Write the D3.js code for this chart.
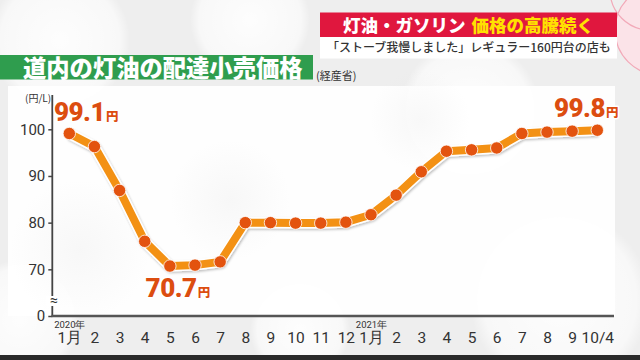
<!DOCTYPE html>
<html><head><meta charset="utf-8">
<script src="https://cdn.jsdelivr.net/npm/d3@7"></script>
<style>html,body{margin:0;padding:0;background:#efefef;}svg{display:block;}</style>
</head><body>
<svg id="c" width="640" height="360"></svg>
<script>
const months = ["1月","2","3","4","5","6","7","8","9","10","11","12","1月","2","3","4","5","6","7","8","9","10/4"];
const years = ["2020年","","","","","","","","","","","","2021年","","","","","","","","",""];
const prices = [99.1, 96.3, 86.9, 76.0, 70.7, 70.9, 71.6, 80.0, 80.0, 79.9, 79.9, 80.1, 81.7, 85.9, 90.9, 95.3, 95.6, 96.0, 99.1, 99.4, 99.6, 99.8];
const yTicks = [60, 70, 80, 90, 100];
const yTickLabels = ["0", "70", "80", "90", "100"];
const callouts = [0, 4, 21];
const titleText = "道内の灯油の配達小売価格";
const sourceText = "(経産省)";
const unitText = "(円/L)";
const bannerWhite = "灯油・ガソリン";
const bannerYellow = "価格の高騰続く";
const subText = "「ストーブ我慢しました」レギュラー160円台の店も";

const svg = d3.select("#c");
const JP = "'Noto Sans CJK JP','Noto Sans',sans-serif";
const NUM = "Roboto,'Liberation Sans',sans-serif";

// background
const defs = svg.append("defs");
const rg = defs.append("radialGradient").attr("id","bok");
rg.append("stop").attr("offset","0%").attr("stop-color","#ffffff").attr("stop-opacity",0.9);
rg.append("stop").attr("offset","85%").attr("stop-color","#ffffff").attr("stop-opacity",0.6);
rg.append("stop").attr("offset","100%").attr("stop-color","#ffffff").attr("stop-opacity",0);
const rg2 = defs.append("radialGradient").attr("id","bokg");
rg2.append("stop").attr("offset","0%").attr("stop-color","#d8d8d8").attr("stop-opacity",0.5);
rg2.append("stop").attr("offset","100%").attr("stop-color","#d8d8d8").attr("stop-opacity",0);
const sh = defs.append("filter").attr("id","sh").attr("x","-20%").attr("y","-20%").attr("width","140%").attr("height","140%");
sh.append("feDropShadow").attr("dx",1).attr("dy",1.5).attr("stdDeviation",1.2).attr("flood-color","#000").attr("flood-opacity",0.25);

svg.append("rect").attr("width",640).attr("height",360).attr("fill","#eeeeee");
[[60,40,70],[250,20,60],[560,300,90],[20,320,60],[300,330,50],[470,110,70]].forEach(b=>{
  svg.append("circle").attr("cx",b[0]).attr("cy",b[1]).attr("r",b[2]).attr("fill","url(#bok)");
});
svg.append("rect").attr("x",8).attr("y",86).attr("width",607).attr("height",230).attr("fill","#ffffff").attr("opacity",0.92);
[[230,200,60],[420,120,50],[80,250,70]].forEach(b=>{
  svg.append("circle").attr("cx",b[0]).attr("cy",b[1]).attr("r",b[2]).attr("fill","url(#bokg)").attr("opacity",0.35);
});
svg.append("rect").attr("x",0).attr("y",355).attr("width",640).attr("height",5).attr("fill","#2a2a2a");

// right pink decoration
const pk = svg.append("g");
pk.append("circle").attr("cx",660).attr("cy",30).attr("r",45).attr("fill","#fbe3e8").attr("stroke","#f2a9b8").attr("stroke-width",1.2);
pk.append("circle").attr("cx",650).attr("cy",-10).attr("r",40).attr("fill","none").attr("stroke","#f2a9b8").attr("stroke-width",1.2);

// banner
svg.append("rect").attr("x",320).attr("y",12.5).attr("width",297).attr("height",24.5).attr("fill","#e0173e");
svg.append("rect").attr("x",320).attr("y",37).attr("width",297).attr("height",21.5).attr("fill","#ffffff");
const bt = svg.append("text").attr("x",343).attr("y",31.5).attr("font-family",JP).attr("font-weight",900).attr("font-size",17.5);
bt.append("tspan").attr("fill","#ffffff").text(bannerWhite);
bt.append("tspan").attr("fill","#ffe100").attr("dx",6).text(bannerYellow);
svg.append("text").attr("x",327).attr("y",52).attr("font-family",JP).attr("font-weight",500).attr("font-size",12)
  .attr("fill","#333").text(subText);

// title
svg.append("rect").attr("x",0).attr("y",55).attr("width",313).attr("height",24.5).attr("fill","#2f9d4e");
svg.append("text").attr("x",23).attr("y",76.5).attr("font-family",JP).attr("font-weight",900).attr("font-size",23.3)
  .attr("fill","#ffffff").text(titleText);
svg.append("text").attr("x",316).attr("y",80).attr("font-family",JP).attr("font-size",11).attr("fill","#333").text(sourceText);

// scales
const x = d3.scalePoint().domain(d3.range(months.length)).range([69.3, 597.3]);
const y = d3.scaleLinear().domain([60, 100]).range([316, 129.3]);

// axes
const yAxis = d3.axisLeft(y).tickValues(yTicks).tickSize(4).tickPadding(3)
  .tickFormat((d,i)=>yTickLabels[i]);
const gy = svg.append("g").attr("transform","translate(52.3,0)").call(yAxis);
gy.select(".domain").remove();
gy.selectAll(".tick line").attr("stroke","#444").attr("stroke-width",1.5);
gy.selectAll(".tick text").attr("font-family",NUM).attr("font-size",15).attr("fill","#333");
svg.append("line").attr("x1",52.3).attr("x2",52.3).attr("y1",95).attr("y2",316).attr("stroke","#444").attr("stroke-width",1.8);
svg.append("line").attr("x1",51.5).attr("x2",614).attr("y1",316).attr("y2",316).attr("stroke","#555").attr("stroke-width",2.5);
// break mark
svg.append("rect").attr("x",46).attr("y",296).attr("width",12).attr("height",10).attr("fill","#fff");
svg.append("text").attr("x",54).attr("y",305).attr("text-anchor","middle").attr("font-family",NUM).attr("font-size",14).attr("fill","#333").text("≈");
svg.append("text").attr("x",25).attr("y",102).attr("font-family",JP).attr("font-size",10).attr("fill","#333").text(unitText);

const xAxis = d3.axisBottom(x).tickSize(0).tickPadding(0).tickFormat(i=>months[i]);
const gx = svg.append("g").attr("transform","translate(0,316)").call(xAxis);
gx.select(".domain").remove();
gx.selectAll(".tick text").attr("y",16).attr("dy","0.71em").attr("font-family",NUM).attr("font-size",15.5)
  .attr("fill","#333");
gx.selectAll(".tick").append("text").attr("y",12).attr("text-anchor","middle").attr("font-family",NUM)
  .attr("font-size",9.5).attr("fill","#333").text(i=>years[i]);

// line
const line = d3.line().x((d,i)=>x(i)).y(d=>y(d));
svg.append("path").datum(prices).attr("d",line).attr("fill","none").attr("stroke","#ffffff").attr("stroke-width",11)
  .attr("stroke-linejoin","round").attr("filter","url(#sh)");
svg.append("path").datum(prices).attr("d",line).attr("fill","none").attr("stroke","#f39114").attr("stroke-width",8)
  .attr("stroke-linejoin","round");
svg.append("g").selectAll("circle").data(prices).join("circle")
  .attr("cx",(d,i)=>x(i)).attr("cy",d=>y(d)).attr("r",6.2).attr("fill","#e3530f")
  .attr("stroke","#ffffff").attr("stroke-width",0.8);

// callouts
const offs = {0:[17,-13], 4:[8,31], 21:[-11,-13]};
callouts.forEach(i=>{
  const t = svg.append("text").attr("x",x(i)+offs[i][0]).attr("y",y(prices[i])+offs[i][1]).attr("text-anchor","middle")
    .attr("font-family",NUM).attr("font-weight",900).attr("fill","#dc4d10")
    .attr("stroke","#ffffff").attr("stroke-width",3).attr("paint-order","stroke").attr("stroke-linejoin","round");
  t.append("tspan").attr("font-size",26).attr("letter-spacing",-0.5).text(prices[i].toFixed(1));
  t.append("tspan").attr("font-size",12.5).attr("font-family",JP).attr("dx",1).text("円");
});
</script>
</body></html>
